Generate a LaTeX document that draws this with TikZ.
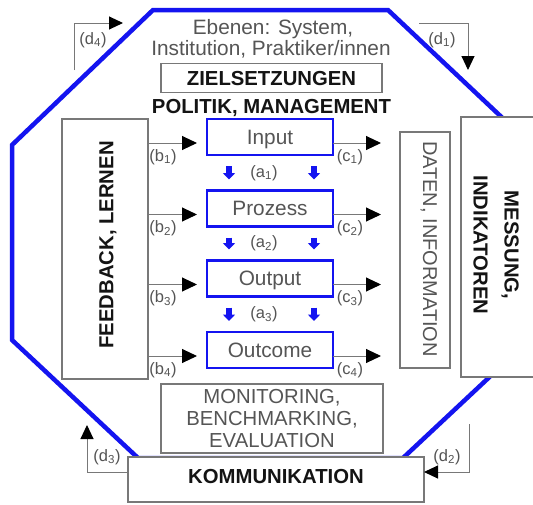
\documentclass[tikz,border=0pt]{standalone}
\usepackage{fontspec}
\setmainfont{Liberation Sans}
\usetikzlibrary{arrows.meta,calc}

\definecolor{octblue}{RGB}{20,20,240}
\definecolor{txtgray}{RGB}{85,85,85}
\definecolor{linegray}{RGB}{120,120,120}

\tikzset{
  graybox/.style={draw=linegray, line width=1.1pt, fill=white, inner sep=0pt, outer sep=0pt},
  stagebox/.style={draw=octblue, line width=2.4pt, fill=white, inner sep=0pt, outer sep=0pt,
    minimum width=126pt, minimum height=36pt, text=txtgray,
    font=\fontsize{20.8}{24}\selectfont, text height=14.8pt, text depth=0pt},
  plaintxt/.style={text=txtgray, font=\fontsize{20.8}{24}\selectfont, inner sep=0pt},
  heavytxt/.style={text=black!92, font=\bfseries\fontsize{20.3}{24}\selectfont, inner sep=0pt},
  lbl/.style={text=txtgray, font=\fontsize{16.5}{18}\selectfont, inner sep=0pt},
  flow/.style={draw=linegray, line width=1pt, -{Triangle[length=15pt,width=14pt,color=black]}},
  loop/.style={draw=linegray, line width=1pt, -{Triangle[length=14pt,width=13pt,color=black]}},
  downarrow/.style={draw=octblue, line width=6pt, -{Triangle[length=6.5pt,width=12pt]}},
}

\begin{document}
\begin{tikzpicture}[x=1pt,y=-1pt]
  \path[use as bounding box] (0,0) rectangle (533,504);
  \clip (0,0) rectangle (533,504);
  \fill[white] (0,0) rectangle (533,504);

  % blue octagon framing the whole cycle
  \draw[octblue, line width=4.5pt, line join=miter]
    (153,10) -- (388,10) -- (529,143) -- (529,340) -- (403,458)
    -- (138,458) -- (12,340) -- (12,145) -- cycle;

  % levels
  \node[plaintxt, anchor=base] (lev1) at (273,34) {Ebenen: System,};
  \node[plaintxt, anchor=base] (lev2) at (271,55) {Institution, Praktiker/innen};

  % goals and policy
  \node[graybox, heavytxt, minimum width=221pt, minimum height=29pt,
        text height=14.5pt, text depth=0pt] (ziel) at (271.5,78) {ZIELSETZUNGEN};
  \node[heavytxt, anchor=base] (politik) at (271.5,113) {POLITIK, MANAGEMENT};

  % side boxes
  \node[graybox, minimum width=86pt, minimum height=260pt] (feedback) at (105,249) {};
  \node[heavytxt, rotate=90, text height=14.5pt, text depth=0pt] (feedbacktxt) at (106,245) {FEEDBACK, LERNEN};

  \node[graybox, minimum width=50pt, minimum height=236pt] (daten) at (425,250) {};
  \node[plaintxt, rotate=-90, text height=14.8pt, text depth=0pt,
        font=\fontsize{20}{24}\selectfont] (datentxt) at (430.5,249) {DATEN, INFORMATION};

  \node[graybox, minimum width=84pt, minimum height=260pt] (messung) at (503,247) {};
  \node[heavytxt, rotate=-90, align=center, font=\bfseries\fontsize{20.3}{31}\selectfont]
    (messungtxt) at (496,245) {MESSUNG,\\INDIKATOREN};

  % stages of the cycle
  \node[stagebox] (input)   at (270,137)   {Input};
  \node[stagebox] (prozess) at (270,208.5) {Prozess};
  \node[stagebox] (output)  at (270,278.5) {Output};
  \node[stagebox] (outcome) at (270,350)   {Outcome};

  % transitions between stages
  \foreach \a/\b/\i in {input/prozess/1, prozess/output/2, output/outcome/3} {
    \draw[downarrow] ([xshift=22pt,yshift=-11pt]\a.south west) -- ([xshift=22pt,yshift=11pt]\b.north west);
    \draw[downarrow] ([xshift=-19pt,yshift=-11pt]\a.south east) -- ([xshift=-19pt,yshift=11pt]\b.north east);
    \node[lbl] (a\i) at ([xshift=-6pt]$(\a.south)!0.5!(\b.north)$) {(a\textsubscript{\i})};
  }

  % feedback into and data out of each stage
  \foreach \s/\i in {input/1, prozess/2, output/3, outcome/4} {
    \coordinate (w\i) at ([yshift=-6pt]\s.west);
    \coordinate (e\i) at ([yshift=-6pt]\s.east);
    \coordinate (f\i) at (feedback.east |- w\i);
    \coordinate (g\i) at (daten.west |- e\i);
    \draw[flow, shorten >=10pt] (f\i) -- (w\i);
    \draw[flow, shorten >=19pt] (e\i) -- (g\i);
    \node[lbl] (b\i) at ([shift={(15pt,-14pt)}]f\i) {(b\textsubscript{\i})};
    \node[lbl] (c\i) at ([shift={(17pt,-14pt)}]e\i) {(c\textsubscript{\i})};
  }

  % evaluation and communication
  \node[graybox, plaintxt, align=center, minimum width=222pt, minimum height=69pt,
        font=\fontsize{20.3}{22}\selectfont] (monitor) at (272,418.5)
        {MONITORING,\\BENCHMARKING,\\EVALUATION};
  \node[graybox, heavytxt, minimum width=296pt, minimum height=45pt,
        text height=14pt, text depth=6pt] (komm) at (276,479.5) {KOMMUNIKATION};

  % outer loop arrows
  \coordinate (d4tail) at (74,70);
  \coordinate (d4tip)  at (123,23);
  \draw[loop] (d4tail) |- (d4tip);
  \node[lbl] (d4) at (93,40) {(d\textsubscript{4})};

  \coordinate (d1tail) at (419,23);
  \coordinate (d1tip)  at (468,70);
  \draw[loop] (d1tail) -| (d1tip);
  \node[lbl] (d1) at (442,40) {(d\textsubscript{1})};

  \coordinate (d3tip) at (87,425);
  \draw[loop] ([yshift=7.5pt]komm.west) -| (d3tip);
  \node[lbl] (d3) at (107,457) {(d\textsubscript{3})};

  \coordinate (d2tail) at (469,424);
  \draw[loop] (d2tail) |- ([yshift=7.5pt]komm.east);
  \node[lbl] (d2) at (447,457) {(d\textsubscript{2})};
\end{tikzpicture}
\end{document}
